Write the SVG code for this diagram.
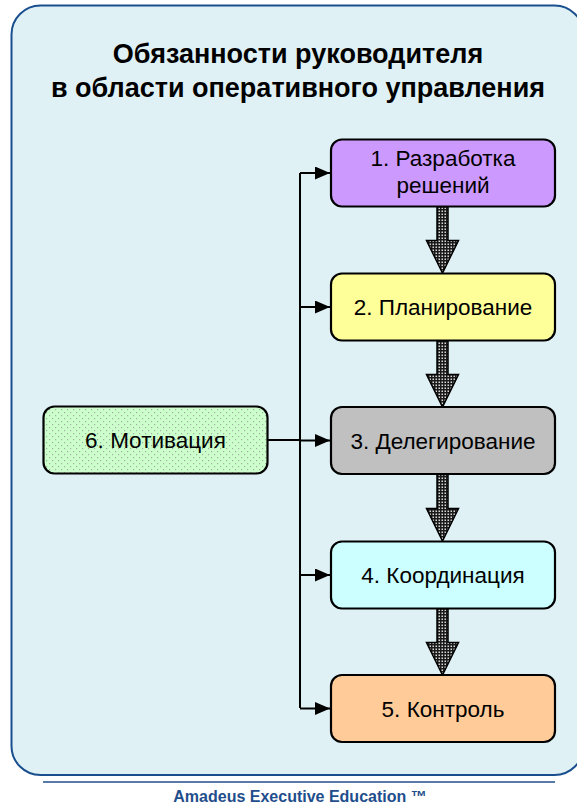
<svg xmlns="http://www.w3.org/2000/svg" width="577" height="805" viewBox="0 0 577 805">
<style>
.box{stroke:#000;stroke-width:2.2}
.t{font-family:"Liberation Sans",Arial,sans-serif;font-size:22.5px;fill:#000;text-anchor:middle}
.title{font-family:"Liberation Sans",Arial,sans-serif;font-size:27px;font-weight:bold;fill:#000;text-anchor:middle}
.foot{font-family:"Liberation Sans",Arial,sans-serif;font-size:16px;font-weight:bold;fill:#1f4e8c;text-anchor:middle}
.conn{stroke:#000;stroke-width:2;fill:none}
.blk{fill:url(#dots);stroke:#000;stroke-width:1.5;stroke-linejoin:miter}
</style>
<defs>
<pattern id="dots" width="3" height="3" patternUnits="userSpaceOnUse">
<rect width="3" height="3" fill="#1a1a1a"/>
<rect x="0.5" y="0.5" width="1.5" height="1.5" fill="#d8d8d8"/>
</pattern>
<pattern id="green" width="6" height="6" patternUnits="userSpaceOnUse">
<rect width="6" height="6" fill="#ccffcc"/>
<rect x="1" y="1" width="1.2" height="1.2" fill="#a0b0a0"/>
<rect x="4" y="4" width="1.2" height="1.2" fill="#a0b0a0"/>
</pattern>
<marker id="ah" viewBox="0 0 15 13" refX="15" refY="6.5" markerWidth="15" markerHeight="13" markerUnits="userSpaceOnUse" orient="auto">
<path d="M0,0 L15,6.5 L0,13 z" fill="#000"/>
</marker>
</defs>
<rect x="11.5" y="5.5" width="572" height="769.5" rx="29" ry="29" fill="#dff1f5" stroke="#1a4f8f" stroke-width="2"/>
<g id="title">
<text class="title" x="298" y="63">Обязанности руководителя</text>
<text class="title" x="298" y="97">в области оперативного управления</text>
</g>
<g id="connectors">
<path class="conn" d="M300,173 V708"/>
<path class="conn" d="M267.5,440 H300"/>
<path class="conn" d="M300,173 H330" marker-end="url(#ah)"/>
<path class="conn" d="M300,307 H330" marker-end="url(#ah)"/>
<path class="conn" d="M300,440.5 H330" marker-end="url(#ah)"/>
<path class="conn" d="M300,575 H330" marker-end="url(#ah)"/>
<path class="conn" d="M300,708.5 H330" marker-end="url(#ah)"/>
<path class="blk" d="M437,206.5 H448 V240.5 H458.5 L442.5,273 L426.5,240.5 H437 Z"/>
<path class="blk" d="M437,340.5 H448 V374.5 H458.5 L442.5,407 L426.5,374.5 H437 Z"/>
<path class="blk" d="M437,474.5 H448 V508.5 H458.5 L442.5,541 L426.5,508.5 H437 Z"/>
<path class="blk" d="M437,608.5 H448 V642.5 H458.5 L442.5,675 L426.5,642.5 H437 Z"/>
</g>
<g id="n1">
<rect class="box" x="331" y="139.5" width="224" height="67" rx="11" fill="#cc99ff"/>
<text class="t" x="443" y="166">1. Разработка</text>
<text class="t" x="443" y="193">решений</text>
</g>
<g id="n2">
<rect class="box" x="331" y="273.5" width="224" height="67" rx="11" fill="#ffff99"/>
<text class="t" x="443" y="315">2. Планирование</text>
</g>
<g id="n3">
<rect class="box" x="331" y="407" width="224" height="67" rx="11" fill="#c0c0c0"/>
<text class="t" x="443" y="448.5">3. Делегирование</text>
</g>
<g id="n4">
<rect class="box" x="331" y="541.5" width="224" height="67" rx="11" fill="#ccffff"/>
<text class="t" x="443" y="583">4. Координация</text>
</g>
<g id="n5">
<rect class="box" x="331" y="675" width="224" height="67" rx="11" fill="#ffcc99"/>
<text class="t" x="443" y="716.5">5. Контроль</text>
</g>
<g id="n6">
<rect class="box" x="43.5" y="406.5" width="224" height="67" rx="11" fill="url(#green)"/>
<text class="t" x="155.5" y="448">6. Мотивация</text>
</g>
<g id="footer">
<line x1="43" y1="782" x2="555" y2="782" stroke="#1f4e8c" stroke-width="1.5"/>
<text class="foot" x="300" y="802">Amadeus Executive Education ™</text>
</g>
</svg>
